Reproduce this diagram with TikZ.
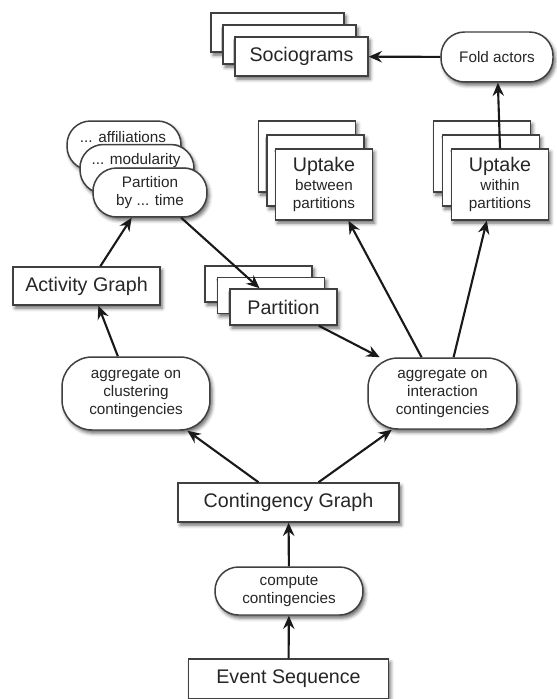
\documentclass[tikz,border=0pt]{standalone}
\usepackage{fontspec}
\setmainfont{Liberation Sans}
\usetikzlibrary{arrows.meta,shadows.blur}
\newcommand\bigtxt{\fontsize{11.2}{13.5}\selectfont}
\newcommand\smalltxt{\fontsize{8.7}{10.2}\selectfont}
\begin{document}
\begin{tikzpicture}[>={Stealth[length=7.5pt,width=6.5pt,inset=2.5pt]}, x=0.02cm, y=-0.02cm,
        base/.style={draw=black!75, line width=0.85pt, fill=white, text=black!85, align=center, inner sep=0pt,
            blur shadow={shadow xshift=1.2pt, shadow yshift=-1.8pt, shadow blur radius=2pt, shadow opacity=60}},
        box/.style={base, font=\bigtxt},
        rbox/.style={base, rounded corners=0.47cm, font=\smalltxt},
        link/.style={->, line width=1.2pt, black!90}]
        \useasboundingbox (0,0) rectangle (556,699);

        \node[box, minimum width=2.66cm, minimum height=0.78cm] (socB) at (277.5,32.5) {};
        \node[box, minimum width=2.66cm, minimum height=0.78cm] (socA) at (289.5,44.5) {};
        \node[box, minimum width=2.66cm, minimum height=0.78cm] (soc) at (301.5,56.5) {Sociograms};
        \node[rbox, minimum width=2.24cm, minimum height=1.0cm] (fold) at (497,57) {Fold actors};

        \node[box, minimum width=1.94cm, minimum height=1.42cm] (upbB) at (307,156.5) {};
        \node[box, minimum width=1.94cm, minimum height=1.42cm] (upbA) at (315.5,170.5) {};
        \node[box, font=\smalltxt, minimum width=1.94cm, minimum height=1.42cm] (upb) at (324,184.5) {{\bigtxt Uptake}\\[1pt]between\\partitions};
        \node[box, minimum width=1.94cm, minimum height=1.42cm] (upwB) at (482,156.5) {};
        \node[box, minimum width=1.94cm, minimum height=1.42cm] (upwA) at (491,170.5) {};
        \node[box, font=\smalltxt, minimum width=1.94cm, minimum height=1.42cm] (upw) at (500,184.5) {{\bigtxt Uptake}\\[1pt]within\\partitions};

        \node[rbox, minimum width=2.28cm, minimum height=0.98cm] (pbtB) at (124,145.5) {};
        \node[font=\smalltxt, text=black!85] (affil) at (123,137) {... affiliations};
        \node[rbox, minimum width=2.28cm, minimum height=0.98cm] (pbtA) at (137,169) {};
        \node[font=\smalltxt, text=black!85] (modul) at (136,161) {... modularity};
        \node[rbox, minimum width=2.28cm, minimum height=0.98cm] (pbt) at (150,192.5) {Partition\\by ... time};

        \node[box, minimum width=2.94cm, minimum height=0.76cm] (act) at (86.5,286) {Activity Graph};
        \node[box, minimum width=2.14cm, minimum height=0.72cm] (partB) at (258.5,284) {};
        \node[box, minimum width=2.14cm, minimum height=0.72cm] (partA) at (271,295.5) {};
        \node[box, minimum width=2.14cm, minimum height=0.72cm] (part) at (283.5,307) {Partition};

        \node[rbox, rounded corners=0.6cm, minimum width=2.96cm, minimum height=1.46cm] (agc) at (136,393.5) {aggregate on\\clustering\\contingencies};
        \node[rbox, rounded corners=0.6cm, minimum width=2.98cm, minimum height=1.42cm] (agi) at (442.5,393.5) {aggregate on\\interaction\\contingencies};
        \node[box, minimum width=4.42cm, minimum height=0.78cm] (cg) at (288.5,502.5) {Contingency Graph};
        \node[rbox, minimum width=2.96cm, minimum height=0.96cm] (cc) at (289,591) {compute\\contingencies};
        \node[box, minimum width=4.0cm, minimum height=0.8cm] (ev) at (288.5,679) {Event Sequence};

        \draw[link] (ev) -- (cc);
        \draw[link] (cc) -- (cg);
        \draw[link] (cg.146) -- (agc);
        \draw[link] (cg.34) -- (agi);
        \draw[link] (agc.116) -- (act.-59);
        \draw[link] (act.55) -- (pbt.-126);
        \draw[link] (pbt.-39) -- (part.142);
        \draw[link] (part.-28) -- (agi.150);
        \draw[link] (agi.120) -- (upb.-56);
        \draw[link] (agi.73) -- (upw.-110);
        \draw[link] (upw.north) -- (fold);
        \draw[link] (fold) -- (soc);
    \end{tikzpicture}
\end{document}
